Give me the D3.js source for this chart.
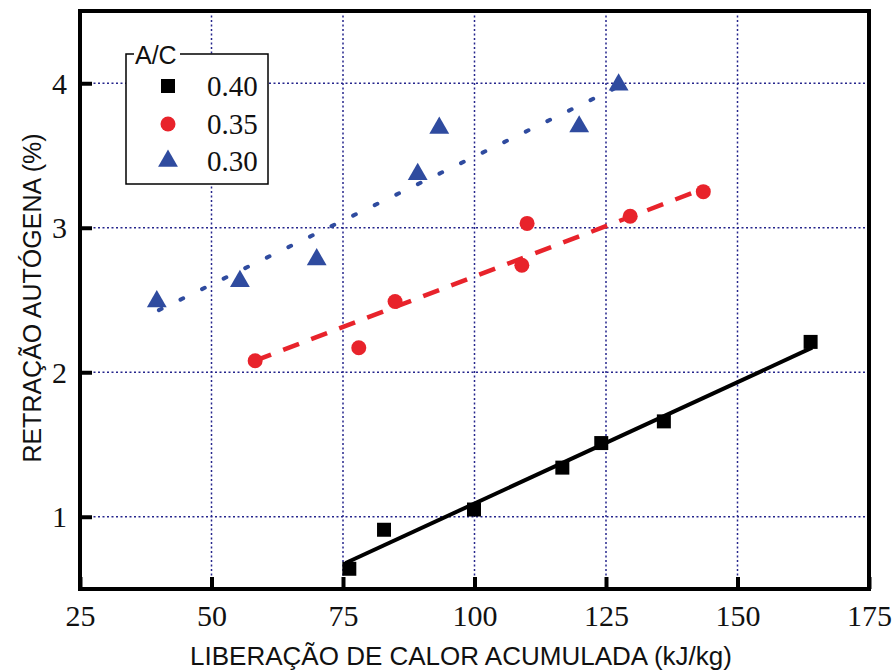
<!DOCTYPE html>
<html>
<head>
<meta charset="utf-8">
<script src="https://cdn.jsdelivr.net/npm/d3@7"></script>
<style>
  body { margin: 0; background: #fff; }
  svg { display: block; }
  .tick line { stroke: #000; stroke-width: 4; }
  .title { font-family: "Liberation Sans", Arial, sans-serif; font-size: 26px; fill: #111; }
</style>
</head>
<body>
<svg id="chart"></svg>
<script>
// data
var xTicks = [25, 50, 75, 100, 125, 150, 175];
var yTicks = [1, 2, 3, 4];

var ac40X = [76.2, 82.8, 99.9, 116.7, 124.1, 136.0, 163.9];
var ac40Y = [0.64, 0.91, 1.05, 1.34, 1.51, 1.66, 2.21];
var ac35X = [58.3, 78.0, 84.9, 109.0, 110.0, 129.6, 143.5];
var ac35Y = [2.08, 2.17, 2.49, 2.74, 3.03, 3.08, 3.25];
var ac30X = [39.6, 55.4, 70.0, 89.2, 93.3, 119.9, 127.4];
var ac30Y = [2.49, 2.63, 2.78, 3.37, 3.69, 3.70, 3.99];

// fitted lines as drawn (end points)
var fit40X = [75.5, 164.2], fit40Y = [0.68, 2.17];
var fit35X = [58.3, 143.5], fit35Y = [2.08, 3.27];
var fit30X = [40.0, 127.5], fit30Y = [2.43, 3.98];

var legendLabels = ["0.40", "0.35", "0.30"];

var red = "#e8232b", blue = "#2f4b9f", grid = "#25258c";
var serif = "'Liberation Serif', 'Times New Roman', serif";

var W = 892, H = 671;
var svg = d3.select("#chart").attr("width", W).attr("height", H);

var x = d3.scaleLinear().domain([25, 175]).range([80, 869]);
var y = d3.scaleLinear().domain([0.5, 4.5]).range([589, 11]);

// grid
svg.append("g").selectAll("line")
    .data(xTicks.slice(1, -1))
    .enter().append("line")
    .attr("x1", function(d) { return x(d); })
    .attr("x2", function(d) { return x(d); })
    .attr("y1", y(4.5)).attr("y2", y(0.5))
    .attr("stroke", grid).attr("stroke-width", 1.5)
    .attr("stroke-dasharray", "2,2.5");

svg.append("g").selectAll("line")
    .data(yTicks)
    .enter().append("line")
    .attr("y1", function(d) { return y(d); })
    .attr("y2", function(d) { return y(d); })
    .attr("x1", x(25)).attr("x2", x(175))
    .attr("stroke", grid).attr("stroke-width", 1.5)
    .attr("stroke-dasharray", "2,2.5");

// axes
svg.append("g")
    .attr("transform", "translate(0," + y(0.5) + ")")
    .call(d3.axisBottom(x).tickValues(xTicks).tickFormat(d3.format("d"))
        .tickSizeInner(-12).tickSizeOuter(0).tickPadding(16))
    .call(function(g) { g.select(".domain").remove(); })
    .selectAll("text")
    .attr("dy", "0.71em")
    .style("font-family", serif).style("font-size", "30px").style("fill", "#111");

svg.append("g")
    .attr("transform", "translate(" + x(25) + ",0)")
    .call(d3.axisLeft(y).tickValues(yTicks).tickFormat(d3.format("d"))
        .tickSizeInner(-12).tickSizeOuter(0).tickPadding(13))
    .call(function(g) { g.select(".domain").remove(); })
    .selectAll("text")
    .attr("dy", "0.34em")
    .style("font-family", serif).style("font-size", "30px").style("fill", "#111");

// fit lines
var line = d3.line()
    .x(function(d) { return x(d[0]); })
    .y(function(d) { return y(d[1]); });

svg.append("path")
    .attr("d", line(d3.zip(fit40X, fit40Y)))
    .attr("fill", "none").attr("stroke", "#000").attr("stroke-width", 4);

svg.append("path")
    .attr("d", line(d3.zip(fit35X, fit35Y)))
    .attr("fill", "none").attr("stroke", red).attr("stroke-width", 4.5)
    .attr("stroke-dasharray", "17,13");

svg.append("path")
    .attr("d", line(d3.zip(fit30X, fit30Y)))
    .attr("fill", "none").attr("stroke", blue).attr("stroke-width", 4)
    .attr("stroke-linecap", "round")
    .attr("stroke-dasharray", "3,21");

// markers
var sq = d3.symbol().type(d3.symbolSquare).size(196);
var tri = d3.symbol().type(d3.symbolTriangle).size(170);

svg.append("g").selectAll("path")
    .data(d3.zip(ac40X, ac40Y))
    .enter().append("path")
    .attr("d", sq)
    .attr("transform", function(d) { return "translate(" + x(d[0]) + "," + y(d[1]) + ")"; })
    .attr("fill", "#000");

svg.append("g").selectAll("circle")
    .data(d3.zip(ac35X, ac35Y))
    .enter().append("circle")
    .attr("cx", function(d) { return x(d[0]); })
    .attr("cy", function(d) { return y(d[1]); })
    .attr("r", 7.5)
    .attr("fill", red);

svg.append("g").selectAll("path")
    .data(d3.zip(ac30X, ac30Y))
    .enter().append("path")
    .attr("d", tri)
    .attr("transform", function(d) { return "translate(" + x(d[0]) + "," + y(d[1]) + ")"; })
    .attr("fill", blue);

// frame
svg.append("rect")
    .attr("x", x(25)).attr("y", y(4.5))
    .attr("width", x(175) - x(25)).attr("height", y(0.5) - y(4.5))
    .attr("fill", "none").attr("stroke", "#000").attr("stroke-width", 4);

// axis titles
svg.append("text")
    .attr("class", "title")
    .attr("x", 461).attr("y", 665)
    .attr("text-anchor", "middle")
    .text("LIBERAÇÃO DE CALOR ACUMULADA (kJ/kg)");

svg.append("text")
    .attr("class", "title")
    .attr("transform", "translate(41,298) rotate(-90)")
    .attr("text-anchor", "middle")
    .style("font-size", "25px")
    .text("RETRAÇÃO AUTÓGENA (%)");

// legend
var leg = svg.append("g");
leg.append("rect")
    .attr("x", 126).attr("y", 54).attr("width", 142).attr("height", 130)
    .attr("fill", "#fff").attr("stroke", "#000").attr("stroke-width", 1.5);
leg.append("rect")
    .attr("x", 134).attr("y", 44).attr("width", 46).attr("height", 20)
    .attr("fill", "#fff");
leg.append("text")
    .attr("class", "title")
    .attr("x", 135).attr("y", 64)
    .style("font-size", "25px")
    .text("A/C");

var legY = [86, 124, 161];
leg.append("path").attr("d", sq).attr("transform", "translate(168," + legY[0] + ")").attr("fill", "#000");
leg.append("circle").attr("cx", 168).attr("cy", legY[1]).attr("r", 7.5).attr("fill", red);
leg.append("path").attr("d", tri).attr("transform", "translate(168," + legY[2] + ")").attr("fill", blue);

leg.selectAll(".lab")
    .data(legendLabels)
    .enter().append("text")
    .attr("class", "lab")
    .attr("x", 207)
    .attr("y", function(d, i) { return legY[i] + 10; })
    .style("font-family", serif)
    .style("font-size", "29px")
    .style("fill", "#111")
    .text(function(d) { return d; });
</script>
</body>
</html>
